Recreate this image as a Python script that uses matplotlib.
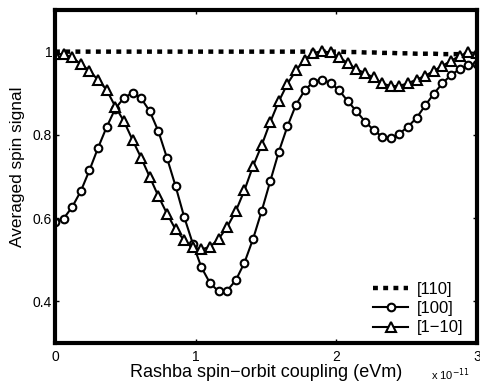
import numpy as np
import matplotlib
matplotlib.use('Agg')
import matplotlib.pyplot as plt

plt.rcParams['font.family'] = ['Liberation Sans', 'DejaVu Sans']

# Rashba coupling, in units of 1e-11 eVm (50 points from 0 to 3)
rashba = np.linspace(0, 3, 50)

# [110] direction: almost constant
signal_110 = [1.000] * 34 + [0.999, 0.999, 0.998, 0.998, 0.997, 0.997, 0.996, 0.996,
                             0.995, 0.995, 0.995, 0.994, 0.994, 0.994, 0.994, 0.994]

# [100] direction
signal_100 = [0.591, 0.599, 0.627, 0.665, 0.715, 0.769, 0.819, 0.863, 0.889, 0.901,
              0.888, 0.857, 0.809, 0.745, 0.677, 0.603, 0.539, 0.482, 0.444, 0.424,
              0.426, 0.451, 0.493, 0.550, 0.617, 0.689, 0.760, 0.821, 0.873, 0.907,
              0.928, 0.933, 0.925, 0.907, 0.881, 0.857, 0.832, 0.812, 0.795, 0.793,
              0.803, 0.820, 0.841, 0.871, 0.899, 0.924, 0.944, 0.958, 0.968, 0.970]

# [1-10] direction
signal_1m10 = [0.994, 0.994, 0.986, 0.970, 0.954, 0.932, 0.908, 0.868, 0.833, 0.788,
               0.745, 0.699, 0.653, 0.611, 0.573, 0.547, 0.530, 0.525, 0.531, 0.550,
               0.579, 0.617, 0.667, 0.725, 0.775, 0.831, 0.881, 0.923, 0.955, 0.981,
               0.997, 1.001, 0.998, 0.987, 0.972, 0.958, 0.948, 0.938, 0.924, 0.917,
               0.918, 0.924, 0.933, 0.942, 0.954, 0.966, 0.978, 0.990, 0.998, 0.997]

xticks = [0, 1, 2, 3]
yticks = [0.4, 0.6, 0.8, 1.0]
ytick_labels = ['0.4', '0.6', '0.8', '1']

fig = plt.figure(figsize=(4.8, 3.85), dpi=100)
ax = fig.add_axes([0.1146, 0.109, 0.879, 0.865])

ax.plot(rashba, signal_110, color='black', linewidth=3.2,
        linestyle=(0, (1.1, 1.2)), label='[110]')
ax.plot(rashba, signal_100, color='black', linewidth=1.5, marker='o',
        markersize=5.5, markerfacecolor='white', markeredgewidth=1.5, label='[100]')
ax.plot(rashba, signal_1m10, color='black', linewidth=1.5, marker='^',
        markersize=6.5, markerfacecolor='white', markeredgewidth=1.5, label='[1\u221210]')

ax.set_xlim(0, 3)
ax.set_ylim(0.3, 1.1)
ax.set_xticks(xticks)
ax.set_xticklabels([str(t) for t in xticks])
ax.set_yticks(yticks)
ax.set_yticklabels(ytick_labels)
ax.tick_params(direction='in', length=3, width=1, labelsize=10, top=True, right=True)
ax.tick_params(axis='y', pad=2)
ax.tick_params(axis='x', pad=5)
for s in ax.spines.values():
    s.set_linewidth(3)

ax.set_xlabel('Rashba spin\u2212orbit coupling (eVm)', fontsize=13, labelpad=0)
ax.set_ylabel('Averaged spin signal', fontsize=12.4)
ax.yaxis.set_label_coords(-0.071, 0.53)
ax.text(0.983, -0.111, r'x 10$^{-11}$', transform=ax.transAxes, fontsize=8,
        ha='right', va='baseline')

ax.legend(loc='lower right', bbox_to_anchor=(0.995, -0.012), frameon=False,
          fontsize=12, handlelength=2.1, borderaxespad=0.3, labelspacing=0.25,
          handletextpad=0.5)

fig.savefig('out.png', dpi=100)
